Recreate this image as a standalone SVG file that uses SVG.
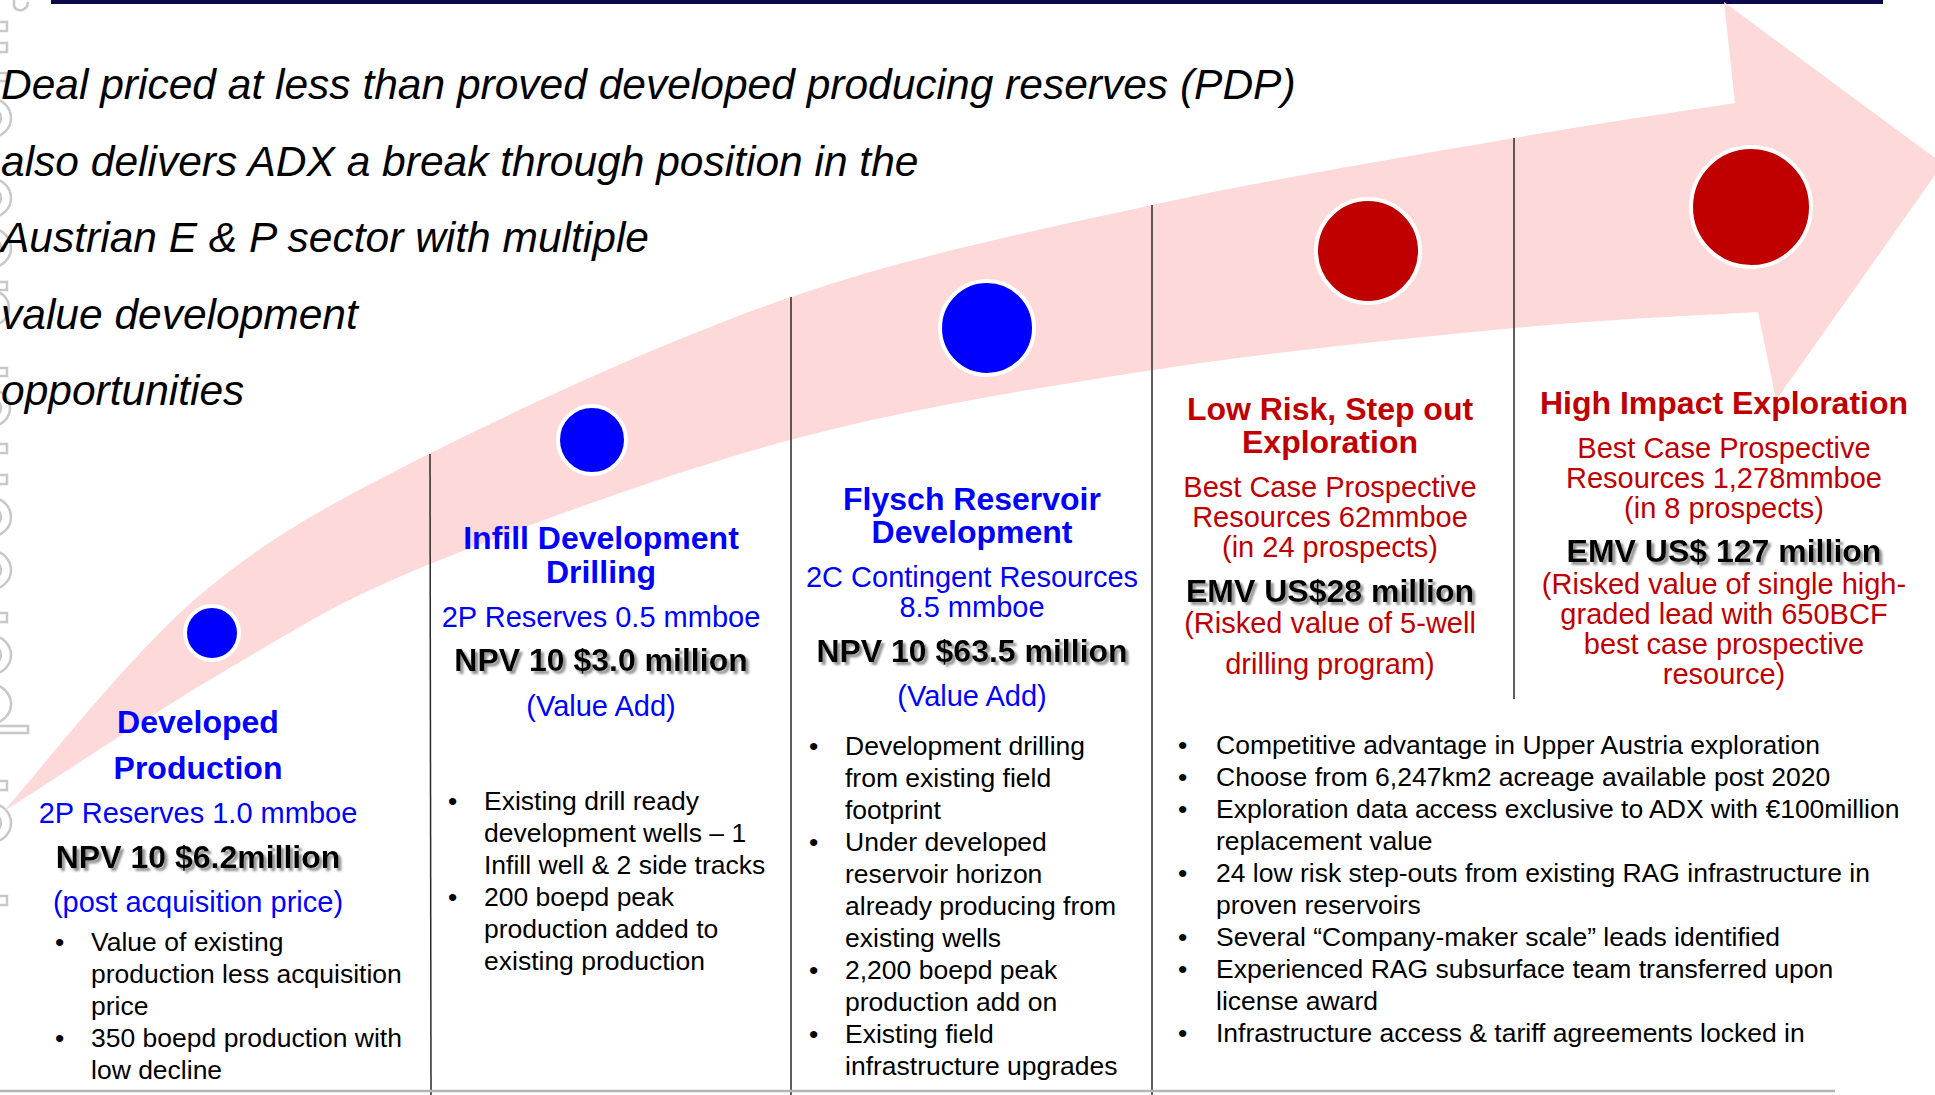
<svg xmlns="http://www.w3.org/2000/svg" width="1935" height="1095" viewBox="0 0 1935 1095">
  <style>
    text { font-family: "Liberation Sans", Arial, sans-serif; }
    .title { font-size: 42.5px; font-style: italic; fill: #000; }
    .hb { font-size: 32px; font-weight: bold; fill: #0000FF; text-anchor: middle; }
    .hr { font-size: 32px; font-weight: bold; fill: #C00000; text-anchor: middle; }
    .sb { font-size: 29px; fill: #0000FF; text-anchor: middle; }
    .sr { font-size: 29px; fill: #C00000; text-anchor: middle; }
    .v { font-size: 32px; font-weight: bold; fill: #000; text-anchor: middle; filter: url(#shadow); }
    .b { font-size: 26.5px; fill: #000; }
    .div { stroke: #2a2a2a; stroke-width: 1.5; fill: none; }
    .deco { stroke: #c8c8c8; stroke-width: 2.5; fill: none; }
    .dotB { fill: #0000FF; stroke: #fff; stroke-width: 4; }
    .dotR { fill: #C00000; stroke: #fff; stroke-width: 4; }
  </style>
  <defs>
    <filter id="shadow" x="-10%" y="-30%" width="120%" height="160%">
      <feGaussianBlur in="SourceAlpha" stdDeviation="1.2" result="blur"/>
      <feOffset in="blur" dx="2.5" dy="2.5" result="off"/>
      <feFlood flood-color="#7a7a7a" flood-opacity="0.8"/>
      <feComposite in2="off" operator="in" result="sh"/>
      <feMerge>
        <feMergeNode in="sh"/>
        <feMergeNode in="SourceGraphic"/>
      </feMerge>
    </filter>
  </defs>

  <rect width="1935" height="1095" fill="#fff"/>

  <!-- top rule -->
  <rect x="51" y="0" width="1832" height="4" fill="#0a0a4a"/>

  <!-- faint outline marks along the left edge -->
  <g id="edge-marks" class="deco">
    <path d="M14,0 L14,6 Q16,11 22,10 Q28,8 28,2"/>
    <rect x="-3" y="22" width="10" height="9"/>
    <rect x="-3" y="43" width="10" height="9"/>
    <rect x="-3" y="73" width="10" height="8"/>
    <circle cx="-8" cy="118" r="19"/><circle cx="-8" cy="118" r="9"/>
    <circle cx="-8" cy="198" r="19"/><circle cx="-8" cy="198" r="9"/>
    <circle cx="-8" cy="248" r="19"/><circle cx="-8" cy="248" r="9"/>
    <rect x="-3" y="282" width="10" height="8"/>
    <circle cx="-8" cy="308" r="17"/>
    <rect x="-3" y="368" width="10" height="8"/>
    <circle cx="-8" cy="408" r="18"/><circle cx="-8" cy="408" r="9"/>
    <rect x="-3" y="444" width="10" height="9"/>
    <rect x="-3" y="475" width="10" height="9"/>
    <circle cx="-8" cy="517" r="19"/><circle cx="-8" cy="517" r="9"/>
    <circle cx="-8" cy="570" r="19"/><circle cx="-8" cy="570" r="9"/>
    <rect x="-3" y="613" width="10" height="9"/>
    <circle cx="-8" cy="655" r="19"/><circle cx="-8" cy="655" r="9"/>
    <circle cx="-8" cy="704" r="19"/>
    <rect x="-3" y="726" width="31" height="7"/>
    <rect x="-3" y="781" width="10" height="9"/>
    <circle cx="-8" cy="823" r="19"/><circle cx="-8" cy="823" r="9"/>
    <rect x="-3" y="896" width="10" height="9"/>
  </g>

  <!-- curved progression arrow -->
  <path id="arrow" fill="#FDD9DA" d="M3,812
    C35.8,775.8 129,654.7 200,595
    C271,535.3 330.5,503.7 429,454
    C527.5,404.3 670.5,338.5 791,297
    C911.5,255.5 1031.5,231.5 1152,205
    C1272.5,178.5 1416.8,155 1514,138
    C1611.2,121 1698.2,108.8 1735,103
    L1724,2 L1943,164 L1776,400 L1758,312
    C1717.5,314.7 1615.8,318.3 1515,328
    C1414.2,337.7 1273.8,351.3 1153,370
    C1032.2,388.7 910.5,407.7 790,440
    C669.5,472.3 522.8,526.3 430,564
    C337.2,601.7 304.2,624.7 233,666
    C161.8,707.3 41.3,787.7 3,812 Z"/>

  <!-- headline -->
  <g id="headline">
    <text class="title" x="1" y="99">Deal priced at less than proved developed producing reserves (PDP)</text>
    <text class="title" x="1" y="176">also delivers ADX a break through position in the</text>
    <text class="title" x="1" y="252">Austrian E &amp; P sector with multiple</text>
    <text class="title" x="1" y="329">value development</text>
    <text class="title" x="1" y="405">opportunities</text>
  </g>

  <!-- column dividers -->
  <g id="connectors">
    <line class="div" x1="430" y1="454" x2="431" y2="1095"/>
    <line class="div" x1="791" y1="297" x2="791" y2="1095"/>
    <line class="div" x1="1152" y1="205" x2="1152" y2="1095"/>
    <line class="div" x1="1514" y1="138" x2="1514" y2="699"/>
    <line x1="0" y1="1091" x2="1835" y2="1091" stroke="#b4b4b4" stroke-width="2.5"/>
  </g>

  <!-- stage markers on the arrow -->
  <g id="markers">
    <circle class="dotB" cx="212" cy="633" r="27"/>
    <circle class="dotB" cx="592" cy="440" r="34"/>
    <circle class="dotB" cx="987" cy="328" r="47"/>
    <circle class="dotR" cx="1368" cy="251" r="52"/>
    <circle class="dotR" cx="1751" cy="207" r="60"/>
  </g>

  <g id="stage-developed-production">
    <text class="hb" x="198" y="733">Developed</text>
    <text class="hb" x="198" y="779">Production</text>
    <text class="sb" x="198" y="823">2P Reserves 1.0 mmboe</text>
    <text class="v" x="198" y="868">NPV 10 $6.2million</text>
    <text class="sb" x="198" y="912">(post acquisition price)</text>
    <g class="b">
      <text x="55" y="951">•</text><text x="91" y="951">Value of existing</text>
      <text x="91" y="983">production less acquisition</text>
      <text x="91" y="1015">price</text>
      <text x="55" y="1047">•</text><text x="91" y="1047">350 boepd production with</text>
      <text x="91" y="1079">low decline</text>
    </g>
  </g>

  <g id="stage-infill-drilling">
    <text class="hb" x="601" y="549">Infill Development</text>
    <text class="hb" x="601" y="583">Drilling</text>
    <text class="sb" x="601" y="627">2P Reserves 0.5 mmboe</text>
    <text class="v" x="601" y="671">NPV 10 $3.0 million</text>
    <text class="sb" x="601" y="716">(Value Add)</text>
    <g class="b">
      <text x="448" y="810">•</text><text x="484" y="810">Existing drill ready</text>
      <text x="484" y="842">development wells – 1</text>
      <text x="484" y="874">Infill well &amp; 2 side tracks</text>
      <text x="448" y="906">•</text><text x="484" y="906">200 boepd peak</text>
      <text x="484" y="938">production added to</text>
      <text x="484" y="970">existing production</text>
    </g>
  </g>

  <g id="stage-flysch-development">
    <text class="hb" x="972" y="510">Flysch Reservoir</text>
    <text class="hb" x="972" y="543">Development</text>
    <text class="sb" x="972" y="587">2C Contingent Resources</text>
    <text class="sb" x="972" y="617">8.5 mmboe</text>
    <text class="v" x="972" y="662">NPV 10 $63.5 million</text>
    <text class="sb" x="972" y="706">(Value Add)</text>
    <g class="b">
      <text x="809" y="755">•</text><text x="845" y="755">Development drilling</text>
      <text x="845" y="787">from existing field</text>
      <text x="845" y="819">footprint</text>
      <text x="809" y="851">•</text><text x="845" y="851">Under developed</text>
      <text x="845" y="883">reservoir horizon</text>
      <text x="845" y="915">already producing from</text>
      <text x="845" y="947">existing wells</text>
      <text x="809" y="979">•</text><text x="845" y="979">2,200 boepd peak</text>
      <text x="845" y="1011">production add on</text>
      <text x="809" y="1043">•</text><text x="845" y="1043">Existing field</text>
      <text x="845" y="1075">infrastructure upgrades</text>
    </g>
  </g>

  <g id="stage-step-out-exploration">
    <text class="hr" x="1330" y="420">Low Risk, Step out</text>
    <text class="hr" x="1330" y="453">Exploration</text>
    <text class="sr" x="1330" y="497">Best Case Prospective</text>
    <text class="sr" x="1330" y="527">Resources 62mmboe</text>
    <text class="sr" x="1330" y="557">(in 24 prospects)</text>
    <text class="v" x="1330" y="602">EMV US$28 million</text>
    <text class="sr" x="1330" y="633">(Risked value of 5-well</text>
    <text class="sr" x="1330" y="674">drilling program)</text>
  </g>

  <g id="stage-high-impact-exploration">
    <text class="hr" x="1724" y="414">High Impact Exploration</text>
    <text class="sr" x="1724" y="458">Best Case Prospective</text>
    <text class="sr" x="1724" y="488">Resources 1,278mmboe</text>
    <text class="sr" x="1724" y="518">(in 8 prospects)</text>
    <text class="v" x="1724" y="562">EMV US$ 127 million</text>
    <text class="sr" x="1724" y="594">(Risked value of single high-</text>
    <text class="sr" x="1724" y="624">graded lead with 650BCF</text>
    <text class="sr" x="1724" y="654">best case prospective</text>
    <text class="sr" x="1724" y="684">resource)</text>
  </g>

  <g id="exploration-notes" class="b">
    <text x="1178" y="754">•</text><text x="1216" y="754">Competitive advantage in Upper Austria exploration</text>
    <text x="1178" y="786">•</text><text x="1216" y="786">Choose from 6,247km2 acreage available post 2020</text>
    <text x="1178" y="818">•</text><text x="1216" y="818">Exploration data access exclusive to ADX with €100million</text>
    <text x="1216" y="850">replacement value</text>
    <text x="1178" y="882">•</text><text x="1216" y="882">24 low risk step-outs from existing RAG infrastructure in</text>
    <text x="1216" y="914">proven reservoirs</text>
    <text x="1178" y="946">•</text><text x="1216" y="946">Several “Company-maker scale” leads identified</text>
    <text x="1178" y="978">•</text><text x="1216" y="978">Experienced RAG subsurface team transferred upon</text>
    <text x="1216" y="1010">license award</text>
    <text x="1178" y="1042">•</text><text x="1216" y="1042">Infrastructure access &amp; tariff agreements locked in</text>
  </g>
</svg>
